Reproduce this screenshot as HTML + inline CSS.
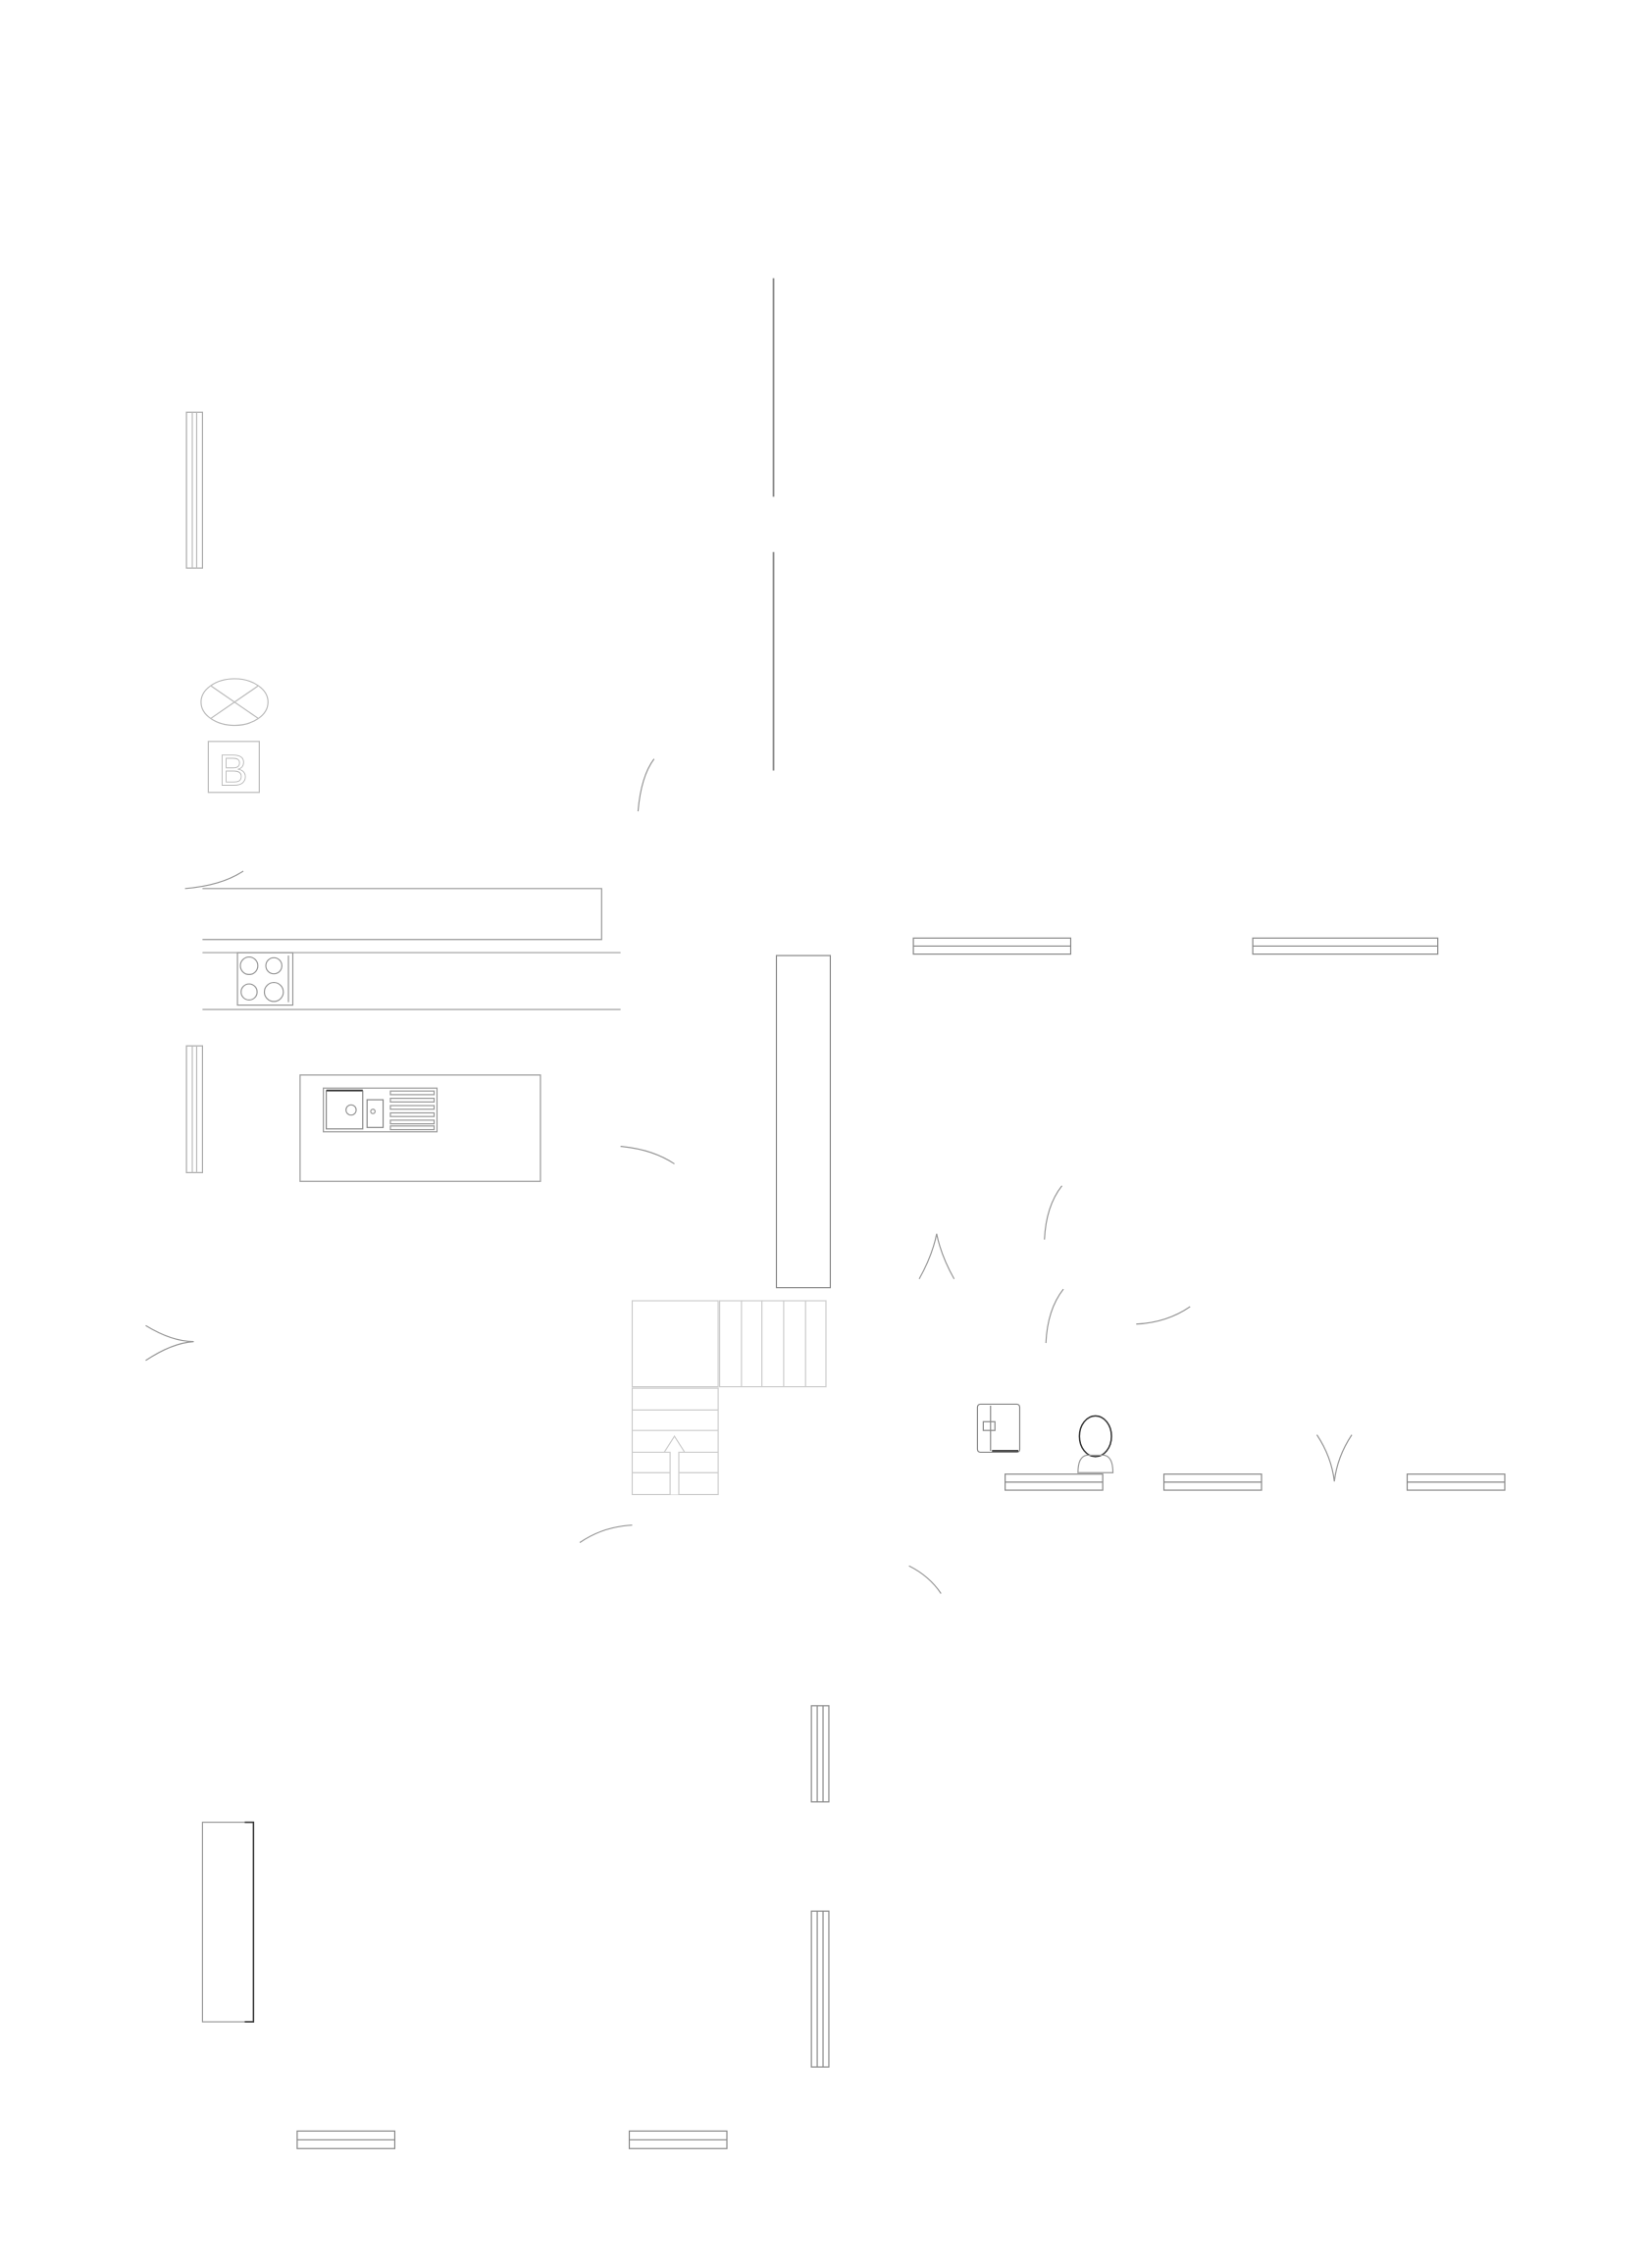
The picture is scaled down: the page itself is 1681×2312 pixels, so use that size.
<!DOCTYPE html>
<html><head><meta charset="utf-8"><style>html,body{margin:0;padding:0;background:#fff}svg{display:block}</style></head>
<body>
<svg width="1681" height="2312" viewBox="0 0 1132 1557" preserveAspectRatio="none" xmlns="http://www.w3.org/2000/svg" fill="none" stroke="#999" stroke-width="0.8">
<!-- vertical windows left -->
<rect x="128" y="283" width="11" height="107" stroke="#aaa"/><line x1="132" y1="283" x2="132" y2="390" stroke="#bbb"/><line x1="135" y1="283" x2="135" y2="390" stroke="#bbb"/>
<rect x="128" y="718" width="11" height="87" stroke="#aaa"/><line x1="132" y1="718" x2="132" y2="805" stroke="#bbb"/><line x1="135" y1="718" x2="135" y2="805" stroke="#bbb"/>
<!-- central vertical lines -->
<line x1="531" y1="191" x2="531" y2="341" stroke="#888" stroke-width="1.2"/>
<line x1="531" y1="379" x2="531" y2="529" stroke="#888" stroke-width="1.2"/>
<!-- X light and B -->
<ellipse cx="161" cy="482" rx="23" ry="16" stroke="#bbb"/>
<line x1="145" y1="471" x2="177" y2="493" stroke="#bbb"/><line x1="145" y1="493" x2="177" y2="471" stroke="#bbb"/>
<rect x="143" y="509" width="35" height="35" stroke="#bbb"/>
<text x="160" y="539" font-family="Liberation Sans, sans-serif" font-size="30" text-anchor="middle" fill="#fff" stroke="#bbb" stroke-width="0.6">B</text>
<!-- arcs -->
<path d="M438 557 Q440 533 449 521" stroke="#999"/>
<path d="M127 610 Q152 608 167 598" stroke="#999"/>
<path d="M426 787 Q448 789 463 799" stroke="#999"/>
<path d="M717 851 Q718 828 729 814" stroke="#999"/>
<path d="M631 878 Q640 862 643 847 Q646 862 655 878" stroke="#999"/>
<path d="M718 922 Q719 899 730 885" stroke="#999"/>
<path d="M780 909 Q801 908 817 897" stroke="#999"/>
<path d="M100 910 Q118 921 133 921 Q118 922 100 934" stroke="#999"/>
<path d="M904 985 Q914 1000 916 1017 Q918 1000 928 985" stroke="#999"/>
<path d="M398 1059 Q414 1048 434 1047" stroke="#999"/>
<path d="M624 1075 Q638 1082 646 1094" stroke="#999"/>
<!-- counter -->
<path d="M139 610 H413 V645 H139" stroke="#999"/>
<line x1="139" y1="654" x2="426" y2="654" stroke="#aaa"/>
<line x1="139" y1="693" x2="426" y2="693" stroke="#999"/>
<rect x="163" y="654" width="38" height="36" stroke="#999"/>
<circle cx="171" cy="663" r="6"/><circle cx="188" cy="663" r="5.5"/><circle cx="171" cy="681" r="5.5"/><circle cx="188" cy="681" r="6.5"/>
<line x1="198" y1="656" x2="198" y2="688" stroke="#999"/>
<!-- island -->
<rect x="206" y="738" width="165" height="73" stroke="#999"/>
<rect x="222" y="747" width="78" height="30" stroke="#999"/>
<rect x="224" y="749" width="25" height="26" stroke="#888"/>
<line x1="224" y1="748.5" x2="249" y2="748.5" stroke="#333" stroke-width="1"/>
<rect x="252" y="755" width="11" height="19" stroke="#888"/>
<circle cx="241" cy="762" r="3.5"/><circle cx="256" cy="763" r="1.5"/>
<g stroke="#999"><rect x="268" y="749" width="30" height="2.5"/><rect x="268" y="754" width="30" height="2.5"/><rect x="268" y="759" width="30" height="2.5"/><rect x="268" y="764" width="30" height="2.5"/><rect x="268" y="769" width="30" height="2.5"/><rect x="268" y="773" width="30" height="2.5"/></g>
<!-- column -->
<rect x="533" y="656" width="37" height="228" stroke="#888"/>
<!-- horizontal windows -->
<g stroke="#888">
<rect x="627" y="644" width="108" height="11"/><line x1="627" y1="649.5" x2="735" y2="649.5"/>
<rect x="860" y="644" width="127" height="11"/><line x1="860" y1="649.5" x2="987" y2="649.5"/>
<rect x="690" y="1012" width="67" height="11"/><line x1="690" y1="1017.5" x2="757" y2="1017.5"/>
<rect x="799" y="1012" width="67" height="11"/><line x1="799" y1="1017.5" x2="866" y2="1017.5"/>
<rect x="966" y="1012" width="67" height="11"/><line x1="966" y1="1017.5" x2="1033" y2="1017.5"/>
<rect x="204" y="1463" width="67" height="12"/><line x1="204" y1="1469" x2="271" y2="1469"/>
<rect x="432" y="1463" width="67" height="12"/><line x1="432" y1="1469" x2="499" y2="1469"/>
</g>
<!-- stairs -->
<g stroke="#ccc">
<rect x="434" y="893" width="59" height="59"/>
<rect x="494" y="893" width="73" height="59"/>
<line x1="509" y1="893" x2="509" y2="952"/><line x1="523" y1="893" x2="523" y2="952"/><line x1="538" y1="893" x2="538" y2="952"/><line x1="553" y1="893" x2="553" y2="952"/>
<rect x="434" y="953" width="59" height="73"/>
<line x1="434" y1="968" x2="493" y2="968"/><line x1="434" y1="982" x2="493" y2="982"/><line x1="434" y1="997" x2="493" y2="997"/><line x1="434" y1="1011" x2="493" y2="1011"/>
<path d="M460 1026 V997 H456 L463 986 L470 997 H466 V1026" fill="#fff"/>
</g>
<!-- bathroom -->
<rect x="671" y="964" width="29" height="33" rx="2" stroke="#888"/>
<line x1="680" y1="965" x2="680" y2="996" stroke="#888"/>
<line x1="681" y1="996" x2="699" y2="996" stroke="#333" stroke-width="1.2"/>
<rect x="675" y="976" width="8" height="6" stroke="#888"/>
<ellipse cx="752" cy="986" rx="11" ry="14" stroke="#333" stroke-width="1"/>
<path d="M740 1011 Q740 1000 746 999 H758 Q764 1000 764 1011 Z" stroke="#999"/>
<!-- lower vertical windows -->
<g stroke="#888">
<rect x="557" y="1171" width="12" height="66"/><line x1="561" y1="1171" x2="561" y2="1237"/><line x1="565" y1="1171" x2="565" y2="1237"/>
<rect x="557" y="1312" width="12" height="107"/><line x1="561" y1="1312" x2="561" y2="1419"/><line x1="565" y1="1312" x2="565" y2="1419"/>
</g>
<!-- tall cabinet -->
<rect x="139" y="1251" width="35" height="137" stroke="#999"/>
<path d="M168 1251 H174 V1388 H168" stroke="#333" stroke-width="1"/>
</svg>
</body></html>
